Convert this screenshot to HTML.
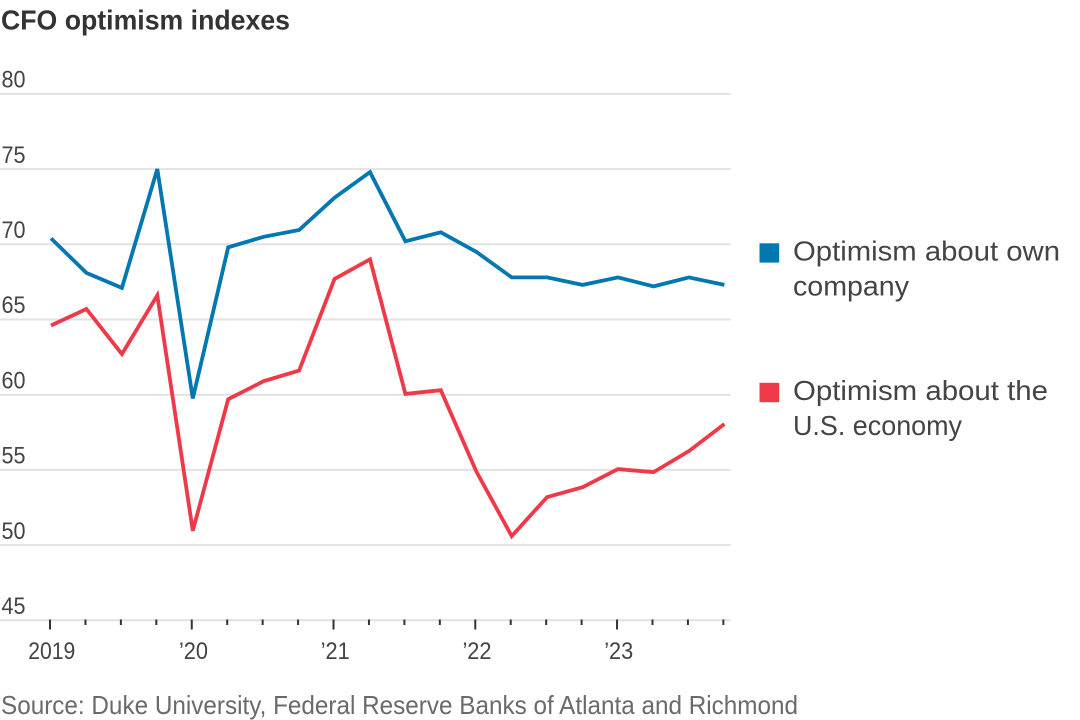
<!DOCTYPE html>
<html>
<head>
<meta charset="utf-8">
<style>
html,body{margin:0;padding:0;background:#fff;}
body{width:1080px;height:720px;overflow:hidden;}
svg{display:block;}
text{font-family:"Liberation Sans",sans-serif;}
</style>
</head>
<body>
<svg id="chart" width="1080" height="720" viewBox="0 0 1080 720" xmlns="http://www.w3.org/2000/svg">
<text x="1" y="29.5" font-size="27.5" font-weight="700" fill="#333" textLength="289" lengthAdjust="spacingAndGlyphs">CFO optimism indexes</text>
<g id="grid"></g>
<g id="axis"></g>
<g id="series"></g>
<rect x="759.5" y="243.3" width="19.7" height="19.3" fill="#0277b0"/>
<text x="793" y="260.7" font-size="28" fill="#444" textLength="267" lengthAdjust="spacingAndGlyphs">Optimism about own</text>
<text x="793" y="295.7" font-size="28" fill="#444" textLength="116" lengthAdjust="spacingAndGlyphs">company</text>
<rect x="759.5" y="382.8" width="19.7" height="19.4" fill="#ef3a47"/>
<text x="793" y="400" font-size="28" fill="#444" textLength="255" lengthAdjust="spacingAndGlyphs">Optimism about the</text>
<text x="793" y="435" font-size="28" fill="#444" textLength="169" lengthAdjust="spacingAndGlyphs">U.S. economy</text>
<text x="1" y="714" font-size="26" fill="#6a6a6a" textLength="797" lengthAdjust="spacingAndGlyphs">Source: Duke University, Federal Reserve Banks of Atlanta and Richmond</text>
</svg>
<script>
const quarters = ['2019Q1','2019Q2','2019Q3','2019Q4','2020Q1','2020Q2','2020Q3','2020Q4','2021Q1','2021Q2','2021Q3','2021Q4','2022Q1','2022Q2','2022Q3','2022Q4','2023Q1','2023Q2','2023Q3','2023Q4'];
const ownCompany = [70.4,68.1,67.1,75.0,59.75,69.8,70.5,70.95,73.1,74.8,70.2,70.8,69.5,67.8,67.8,67.3,67.8,67.2,67.8,67.3];
const usEconomy = [64.6,65.7,62.7,66.6,50.95,59.7,60.9,61.6,67.7,69.0,60.05,60.3,54.9,50.6,53.2,53.85,55.05,54.85,56.25,58.05];
const yTicks = [45,50,55,60,65,70,75,80];
const xLabels = ['2019','’20','’21','’22','’23'];
const xLabelIndex = [0,4,8,12,16];

const NS = 'http://www.w3.org/2000/svg';
const xScale = i => 51 + i * 35.44;
const yScale = v => 620.3 - (v - 45) * 15.04;

function make(tag, attrs, parent, text){
  const el = document.createElementNS(NS, tag);
  for (const k in attrs) el.setAttribute(k, attrs[k]);
  if (text !== undefined) el.textContent = text;
  parent.appendChild(el);
  return el;
}

const grid = document.getElementById('grid');
const axis = document.getElementById('axis');
const seriesG = document.getElementById('series');

yTicks.forEach(t => {
  const y = yScale(t);
  const line = make('line', {x1:0, x2:730.5, y1:y, y2:y, stroke:'#e2e2e2', 'stroke-width':2}, grid);
  
  
  const label = make('text', {x:1.5, y:y - 6.3, 'font-size':24, fill:'#444', textLength:24, lengthAdjust:'spacingAndGlyphs'}, grid, String(t));
  
  
});

quarters.forEach((q, i) => {
  const major = xLabelIndex.indexOf(i) >= 0;
  const tickX = xScale(i) - 1;
  const tick = make('line', {x1:tickX, x2:tickX, y1:619.5, y2: major ? 629.5 : 625, stroke:'#333', 'stroke-width':2}, axis);
  
  
});

xLabels.forEach((l, n) => {
  const width = l.length === 4 ? 47 : 29;
  const centre = xScale(xLabelIndex[n]) + 0.7;
  const label = make('text', {x:centre - width / 2, y:659, 'font-size':24, fill:'#444', textLength:width, lengthAdjust:'spacingAndGlyphs'}, axis, l);
  
  
});

function path(values){
  return values.map((v, i) => (i ? 'L' : 'M') + xScale(i).toFixed(1) + ' ' + yScale(v).toFixed(1)).join(' ');
}

const lineCompany = make('path', {d:path(ownCompany), fill:'none', stroke:'#0277b0', 'stroke-width':3.8, 'stroke-linejoin':'miter'}, seriesG);



const lineEconomy = make('path', {d:path(usEconomy), fill:'none', stroke:'#ee3a48', 'stroke-width':3.8, 'stroke-linejoin':'miter'}, seriesG);


</script>
</body>
</html>
